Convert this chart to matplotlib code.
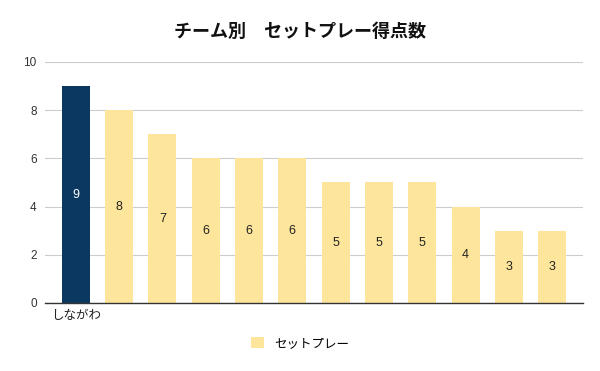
import matplotlib
matplotlib.use("Agg")
import matplotlib.pyplot as plt
from matplotlib.patches import Patch

plt.rcParams['font.family'] = ['Liberation Sans', 'Noto Sans CJK JP', 'DejaVu Sans']

categories = ["しながわ", "", "", "", "", "", "", "", "", "", "", ""]
values = [9, 8, 7, 6, 6, 6, 5, 5, 5, 4, 3, 3]
series_name = "セットプレー"
title = "チーム別　セットプレー得点数"
yticks = [0, 2, 4, 6, 8, 10]

navy = "#0b3861"
yellow = "#fde59b"
jp = ['Noto Sans CJK JP', 'DejaVu Sans']

fig = plt.figure(figsize=(6, 3.71), dpi=100)
ax = fig.add_axes([0.075, 0.1833, 0.8967, 0.6496])

x = list(range(len(values)))
colors = [navy] + [yellow] * (len(values) - 1)
ax.bar(x, values, width=0.65, color=colors, zorder=3, label=series_name)

for i, (xi, v) in enumerate(zip(x, values)):
    ax.text(xi, v / 2, str(v), ha='center', va='center', fontsize=9,
            color='white' if i == 0 else '#222222', zorder=4)

ax.set_xlim(-0.71, len(values) - 1 + 0.71)
ax.set_ylim(0, 10)
ax.set_yticks(yticks)
ax.set_yticklabels([str(t) for t in yticks], fontsize=8.5, color='#333333')
ax.set_xticks(x)
ax.set_xticklabels(categories, fontsize=9, color='#222222', family=jp)
ax.tick_params(axis='both', length=0, pad=6)
ax.tick_params(axis='x', pad=4)
ax.grid(axis='y', color='#cccccc', linewidth=0.8, zorder=0)
for s in ['top', 'right', 'left']:
    ax.spines[s].set_visible(False)
ax.spines['bottom'].set_color('#333333')
ax.spines['bottom'].set_linewidth(1.0)
ax.spines['bottom'].set_zorder(5)

fig.text(0.5, 0.915, title, ha='center', va='center', fontsize=13, fontweight='bold',
         color='#111111', family=jp)

handle = Patch(facecolor=yellow, edgecolor='none')
fig.legend([handle], [series_name], loc='center', bbox_to_anchor=(0.5, 0.075),
           frameon=False, prop={'family': jp, 'size': 9}, handlelength=1.0, handleheight=1.0,
           handletextpad=0.8)

fig.savefig("out.png", dpi=100, facecolor='white')
